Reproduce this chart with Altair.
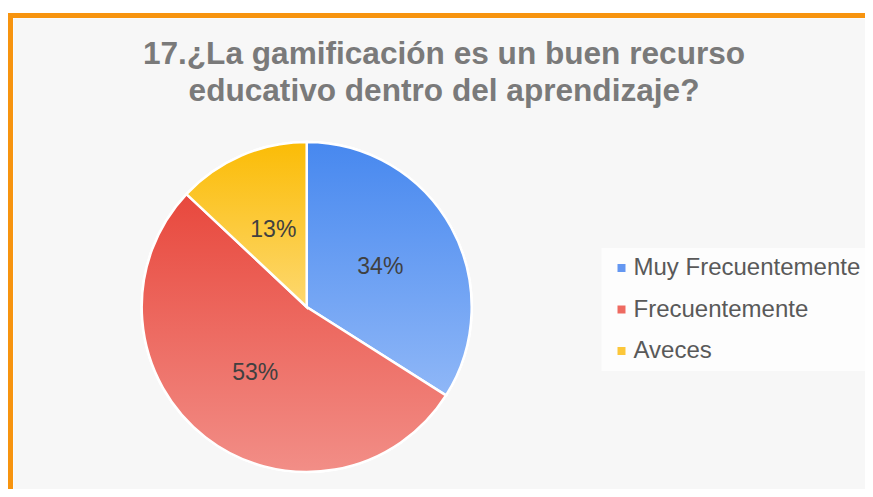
import altair as alt
import pandas as pd

# ---- data ----
categories = ["Muy Frecuentemente", "Frecuentemente", "Aveces"]
values = [34, 53, 13]
order = [0, 1, 2]
legend_colors = ["#6497f1", "#ee6a61", "#fcc73a"]
grad_top = ["#4788ef", "#e8483d", "#fbbc06"]
grad_bottom = ["#8fb7f7", "#f28e87", "#fdd86f"]
title_lines = ["17.¿La gamificación es un buen recurso", "educativo dentro del aprendizaje?"]

df = pd.DataFrame({"categoria": categories, "valor": values, "orden": order})

FONT = "Liberation Sans"
CX, CY, R = 293.7, 289, 165

base = (
    alt.Chart(df)
    .transform_joinaggregate(total="sum(valor)")
    .transform_window(acum="sum(valor)", sort=[alt.SortField("orden")])
    .transform_calculate(
        inicio="(datum.acum - datum.valor) / datum.total * 2 * PI",
        fin="datum.acum / datum.total * 2 * PI",
        medio="(datum.acum - datum.valor / 2) / datum.total * 2 * PI",
        etiqueta="format(datum.valor / datum.total, '.0%')",
    )
)

pie_base = base.mark_arc(outerRadius=R, stroke="white", strokeWidth=2.5).encode(
    x=alt.value(CX),
    y=alt.value(CY),
    theta=alt.Theta("inicio:Q", scale=None),
    theta2="fin:Q",
    color=alt.Color(
        "categoria:N",
        scale=alt.Scale(domain=categories, range=legend_colors),
        legend=alt.Legend(
            orient="none",
            legendX=588.5,
            legendY=230,
            title=None,
            symbolType="square",
            symbolSize=64,
            symbolStrokeWidth=0,
            symbolOpacity=1,
            labelFontSize=24,
            labelFont=FONT,
            labelColor="#595959",
            labelOffset=0,
            labelLimit=400,
            rowPadding=17.5,
            padding=8,
            fillColor="#fdfdfd",
        ),
    ),
)

grad_layers = []
for cat, top, bot in zip(categories, grad_top, grad_bottom):
    grad_layers.append(
        base.transform_filter(alt.datum.categoria == cat)
        .mark_arc(
            outerRadius=R,
            stroke="white",
            strokeWidth=2.5,
            fill=alt.Gradient(
                gradient="linear",
                x1=0, y1=0, x2=0, y2=1,
                stops=[
                    alt.GradientStop(offset=0, color=top),
                    alt.GradientStop(offset=1, color=bot),
                ],
            ),
        )
        .encode(
            x=alt.value(CX),
            y=alt.value(CY),
            theta=alt.Theta("inicio:Q", scale=None),
            theta2="fin:Q",
        )
    )

labels = base.mark_text(
    font=FONT, fontSize=23, color="#404040", radius=84, align="center", baseline="middle"
).encode(
    x=alt.value(CX),
    y=alt.value(CY),
    theta=alt.Theta("medio:Q", scale=None),
    text="etiqueta:N",
)

single = alt.Data(values=[{"k": 0}])

title = alt.Chart(single).mark_text(
    text=title_lines,
    font=FONT,
    fontSize=31.6,
    fontWeight="bold",
    color="#7a7a7a",
    align="center",
    baseline="alphabetic",
    lineHeight=37,
).encode(x=alt.value(431), y=alt.value(46))

ORANGE = "#f7940f"
border_top = alt.Chart(single).mark_rule(color=ORANGE, strokeWidth=5).encode(
    x=alt.value(-5), x2=alt.value(860), y=alt.value(-2.5)
)
border_left = alt.Chart(single).mark_rule(color=ORANGE, strokeWidth=5).encode(
    x=alt.value(-2.5), y=alt.value(-5), y2=alt.value(480)
)

chart = (
    alt.layer(border_top, border_left, pie_base, *grad_layers, labels, title)
    .properties(
        width=852,
        height=471,
        padding={"left": 5, "top": 10, "right": 0, "bottom": 0},
        autosize=alt.AutoSizeParams(type="none"),
        background="white",
    )
    .configure_view(fill="#f7f7f7", stroke="transparent")
)

chart.save("out.html", embed_options={"renderer": "svg", "actions": False})
